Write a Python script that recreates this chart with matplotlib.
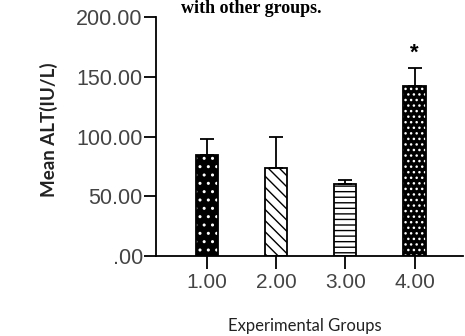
import numpy as np
import matplotlib.pyplot as plt

# Данные
groups = [1, 2, 3, 4]
group_labels = ['1.00', '2.00', '3.00', '4.00']
mean_alt = [85, 74, 60, 142]
err_up = [13, 26, 4, 15]
y_ticks = [0, 50, 100, 150, 200]
y_tick_labels = ['.00', '50.00', '100.00', '150.00', '200.00']

plt.rcParams['font.family'] = ['Liberation Sans', 'DejaVu Sans']
plt.rcParams['hatch.linewidth'] = 1.0

fig = plt.figure(figsize=(4.65, 3.36), dpi=100)
ax = fig.add_axes([0.3355, 0.238, 0.66, 0.711])

# заливка и штриховка
faces = ['black', 'white', 'white', 'black']
hcols = ['white', 'black', 'black', 'white']
hatches = ['..', '\\\\\\', '---', '...']
for x, v, fc, hc, h in zip(groups, mean_alt, faces, hcols, hatches):
    ax.bar(x, v, width=0.32, color=fc, edgecolor=hc, hatch=h, linewidth=0)
ax.bar(groups, mean_alt, width=0.32, fill=False, edgecolor='black', linewidth=1.3)

ax.errorbar(groups, mean_alt, yerr=[np.zeros(4), err_up], fmt='none',
            ecolor='black', elinewidth=1.3, capsize=5, capthick=1.3)

ax.text(4, mean_alt[3] + err_up[3] + 4, '*', ha='center', va='bottom',
        fontsize=16, fontweight='bold')

ax.set_xlim(0.26, 4.7)
ax.set_ylim(0, 200)
ax.set_xticks(groups)
ax.set_xticklabels(group_labels, fontsize=15, color='#444444')
ax.set_yticks(y_ticks)
ax.set_yticklabels(y_tick_labels, fontsize=15.5, color='#444444')
ax.tick_params(axis='x', length=9, width=1.3, pad=3)
ax.tick_params(axis='y', length=9, width=1.3, pad=0.5)
for s in ['top', 'right']:
    ax.spines[s].set_visible(False)
for s in ['left', 'bottom']:
    ax.spines[s].set_linewidth(1.3)

narrow = ['Lato', 'DejaVu Sans']
fig.text(0.105, 0.613, 'Mean ALT(IU/L)', ha='center', va='center', rotation=90,
         fontsize=13.5, fontweight='bold', family=narrow, color='#222222')
fig.text(0.655, 0.03, 'Experimental Groups', ha='center', va='center',
         fontsize=12, family=narrow, color='#222222')
fig.text(0.54, 1.0, 'with other groups.', ha='center', va='top',
         fontsize=13, fontweight='bold', family='Liberation Serif')

fig.savefig('out.png', dpi=100)
